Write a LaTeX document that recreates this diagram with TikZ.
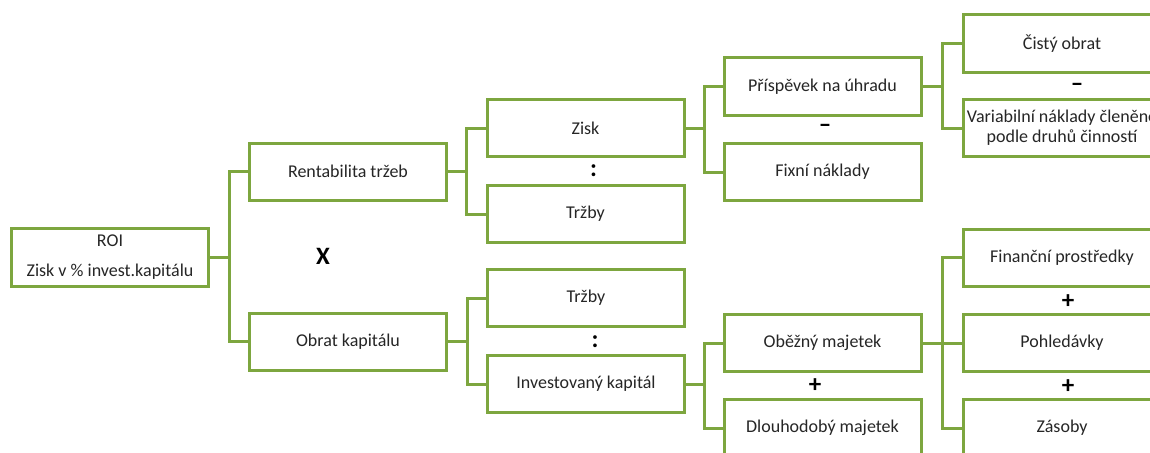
\documentclass[tikz,border=0pt]{standalone}
\usepackage{fontspec}
\setmainfont{Carlito}
\usetikzlibrary{calc}
\definecolor{leaf}{HTML}{7DA63F}
\definecolor{ink}{HTML}{262626}
\tikzset{
  box/.style={draw=leaf, line width=3pt, fill=white, minimum width=197pt,
    minimum height=57pt, inner sep=0pt, align=center, text=ink,
    font=\fontsize{18}{22}\selectfont},
  link/.style={draw=leaf, line width=3pt},
  op/.style={text=black, inner sep=0pt, font=\fontsize{25}{25}\selectfont\bfseries}
}
% elbow connector: horizontal out of the parent, vertical at the midpoint, horizontal into the child
\newcommand{\elbow}[2]{\draw[link] (#1.east) -| ($(#1.east)!.5!(#2.west)$) |- (#2.west);}
\begin{document}
\begin{tikzpicture}[x=1pt, y=-1pt]
\useasboundingbox (0,0) rectangle (1150,452);
\clip (0,0) rectangle (1150,452);

% level 0
\node[box, minimum height=58pt] (roi) at (110,257.5) {ROI\\[8pt]Zisk v \% invest.kapitálu};
% level 1
\node[box] (rt) at (348,171.5) {Rentabilita tržeb};
\node[box] (ok) at (348,341.5) {Obrat kapitálu};
% level 2
\node[box] (zisk) at (585.5,128) {Zisk};
\node[box] (trz1) at (585.5,214) {Tržby};
\node[box] (trz2) at (586,298) {Tržby};
\node[box] (ik) at (586,384) {Investovaný kapitál};
% level 3
\node[box] (prisp) at (822.5,86.5) {Příspěvek na úhradu};
\node[box] (fix) at (822.5,172) {Fixní náklady};
\node[box] (ob) at (822.5,343) {Oběžný majetek};
\node[box] (dl) at (822.5,428) {Dlouhodobý majetek};
% level 4
\node[box] (cist) at (1062,43.5) {Čistý obrat};
\node[box, font=\fontsize{18}{20}\selectfont] (var) at (1062,128) {Variabilní náklady členěné\\podle druhů činností};
\node[box] (fin) at (1062,257.5) {Finanční prostředky};
\node[box] (pohl) at (1062,343) {Pohledávky};
\node[box] (zas) at (1062,428) {Zásoby};

% connectors
\elbow{roi}{rt}
\elbow{roi}{ok}
\elbow{rt}{zisk}
\elbow{rt}{trz1}
\elbow{ok}{trz2}
\elbow{ok}{ik}
\elbow{zisk}{prisp}
\elbow{zisk}{fix}
\elbow{ik}{ob}
\elbow{ik}{dl}
\elbow{prisp}{cist}
\elbow{prisp}{var}
\elbow{ob}{fin}
\elbow{ob}{pohl}
\elbow{ob}{zas}

% operators
\node[op] (times) at (323,256) {X};
\node[op] (div1) at (593.5,171) {:};
\node[op] (div2) at (595,342) {:};
\node[op] (min1) at (825,128) {–};
\node[op] (min2) at (1077,87) {–};
\node[op] (plus1) at (815,386) {+};
\node[op] (plus2) at (1068,302) {+};
\node[op] (plus3) at (1068,387) {+};
\end{tikzpicture}
\end{document}
